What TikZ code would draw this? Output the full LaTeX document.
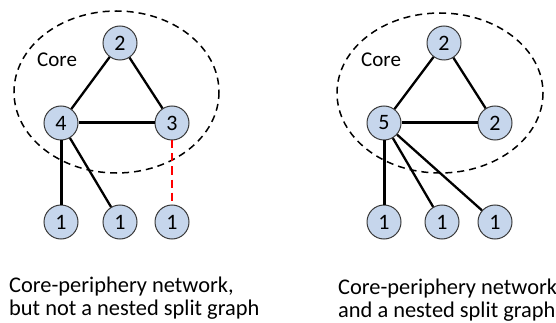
\documentclass[tikz,border=0pt]{standalone}
\usepackage{fontspec}
\setmainfont{Carlito}
\definecolor{nodefill}{HTML}{C6D6EC}
\definecolor{nodeedge}{HTML}{3A3A3A}
\begin{document}
\begin{tikzpicture}[x=1pt,y=-1pt,
  vert/.style={circle,draw=nodeedge,line width=1pt,fill=nodefill,minimum size=34pt,inner sep=0pt,font=\fontsize{22}{26}\selectfont},
  edge/.style={line width=3pt},
  thinedge/.style={line width=2.3pt},
  coreset/.style={draw,line width=1.5pt,dash pattern=on 7pt off 5pt},
  redge/.style={draw=red,line width=2.5pt,dash pattern=on 8pt off 5pt},
  lab/.style={font=\fontsize{21}{25}\selectfont,anchor=base west,inner sep=0pt},
  caption/.style={font=\fontsize{22.4}{26}\selectfont,anchor=base west,inner sep=0pt}]
\useasboundingbox (0,0) rectangle (556,323);
% left graph
\draw[coreset] (116.5,92) ellipse [x radius=102.5, y radius=81];
\node[lab] (coreL) at (37,67) {Core};
\node[vert] (a2) at (120,43) {2};
\node[vert] (a4) at (61,123) {4};
\node[vert] (a3) at (172,123) {3};
\node[vert] (a1a) at (61,222) {1};
\node[vert] (a1b) at (120,222) {1};
\node[vert] (a1c) at (172,222) {1};
\draw[thinedge] (a2) -- (a4);
\draw[thinedge] (a2) -- (a3);
\draw[edge] (a4) -- (a3);
\draw[edge] (a4) -- (a1a);
\draw[thinedge] (a4) -- (a1b);
\draw[redge] (a3) -- (a1c);
% right graph
\draw[coreset] (440,93) ellipse [x radius=103, y radius=80];
\node[lab] (coreR) at (361,67) {Core};
\node[vert] (b2) at (444,43) {2};
\node[vert] (b5) at (384,123) {5};
\node[vert] (b2r) at (495,123) {2};
\node[vert] (b1a) at (384,222) {1};
\node[vert] (b1b) at (442,222) {1};
\node[vert] (b1c) at (495,222) {1};
\draw[thinedge] (b2) -- (b5);
\draw[thinedge] (b2) -- (b2r);
\draw[edge] (b5) -- (b2r);
\draw[edge] (b5) -- (b1a);
\draw[thinedge] (b5) -- (b1b);
\draw[thinedge] (b5) -- (b1c);
% captions
\node[caption] (c1) at (9,292) {Core-periphery network,};
\node[caption] (c2) at (9,315) {but not a nested split graph};
\node[caption] (c3) at (338,294) {Core-periphery network};
\node[caption] (c4) at (338,317) {and a nested split graph};
\end{tikzpicture}
\end{document}
